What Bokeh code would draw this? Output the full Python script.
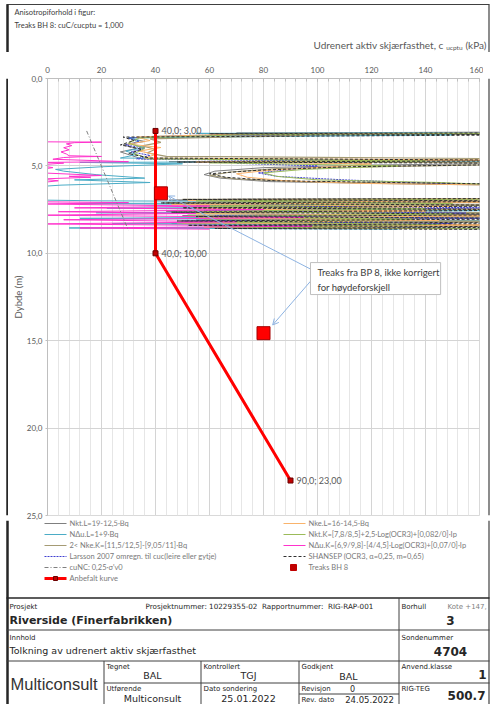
from bokeh.plotting import figure
from bokeh.layouts import column, row
from bokeh.models import Range1d, FixedTicker, Label, Arrow, OpenHead, BoxAnnotation
from bokeh.core.properties import value
from bokeh.embed import file_html
from bokeh.resources import INLINE

# ---------------------------------------------------------------- data
x_ticks = [0, 20, 40, 60, 80, 100, 120, 140, 160]
y_ticks = [0, 5, 10, 15, 20, 25]
y_tick_labels = ["0,0", "5,0", "10,0", "15,0", "20,0", "25,0"]

# cu profiles from CPTU interpretation (depth in m, cu in kPa)
nkt_l_depth = [3.05, 3.12, 3.18, 3.30, 3.42, 3.60, 3.80, 4.00, 4.20, 4.40,
               4.60, 4.70, 4.76, 4.82, 4.95, 5.10, 5.30, 5.50, 5.70, 5.90,
               6.05, 6.15, 6.85, 6.90, 6.96, 7.05, 7.15, 7.25, 7.40, 7.50,
               7.60, 7.75, 7.85, 7.95, 8.10, 8.20, 8.30, 8.45, 8.55, 8.62]
nkt_l_cu = [200, 70, 190, 40, 30, 36, 28, 33, 27, 31,
            35, 190, 45, 195, 120, 80, 62, 58, 64, 82,
            140, 200, 200, 70, 45, 195, 48, 190, 52, 185,
            44, 200, 50, 190, 55, 185, 46, 195, 60, 200]

ndu_l_depth = [3.08, 3.14, 3.22, 3.40, 3.55, 3.75, 3.95, 4.15, 4.35, 4.55,
               4.72, 4.80, 4.88, 5.05, 5.20, 5.30, 5.50, 5.70, 5.80, 5.95,
               6.10, 6.20, 6.95, 7.00, 7.08, 7.15, 7.30, 7.42, 7.55, 7.68,
               7.85, 8.00, 8.15, 8.30, 8.45, 8.55, 8.62]
ndu_l_cu = [200, 55, 150, 30, 34, 31, 36, 29, 33, 27,
            190, 12, 50, 20, 3, 6, 18, 36, 10, 38,
            5, -5, -5, 20, 170, 10, 150, 22, 175, 18,
            160, 12, 180, 24, 140, 8, 130]

nke_k_depth = [3.10, 3.18, 3.26, 3.45, 3.65, 3.85, 4.05, 4.25, 4.45, 4.62,
               4.74, 4.84, 5.00, 5.15, 5.35, 5.55, 5.75, 5.90, 6.05, 6.12,
               6.86, 6.92, 7.00, 7.12, 7.22, 7.35, 7.48, 7.58, 7.70, 7.82,
               7.92, 8.05, 8.18, 8.28, 8.40, 8.52, 8.60]
nke_k_cu = [200, 80, 95, 38, 42, 35, 40, 37, 44, 200,
            60, 195, 140, 85, 68, 60, 70, 95, 160, 200,
            200, 50, 190, 44, 200, 55, 180, 48, 195, 52,
            200, 58, 185, 50, 195, 62, 200]

larsson_depth = [3.12, 3.25, 3.40, 3.60, 3.80, 4.00, 4.20, 4.40, 4.60, 4.75,
                 4.85, 5.00, 5.20, 5.40, 5.60, 5.80, 5.95, 6.10, 6.90, 7.00,
                 7.10, 7.25, 7.40, 7.55, 7.70, 7.85, 8.00, 8.15, 8.30, 8.45,
                 8.60]
larsson_cu = [170, 55, 30, 34, 29, 36, 31, 38, 33, 120,
              70, 100, 90, 78, 85, 110, 135, 170, 170, 60,
              150, 55, 165, 58, 155, 62, 170, 50, 150, 60,
              170]

nke_l_depth = [3.12, 3.20, 3.35, 3.55, 3.75, 3.95, 4.15, 4.35, 4.55, 4.68,
               4.78, 4.88, 5.05, 5.25, 5.45, 5.65, 5.85, 6.00, 6.12, 6.88,
               6.98, 7.08, 7.20, 7.32, 7.45, 7.58, 7.72, 7.85, 7.98, 8.12,
               8.25, 8.38, 8.50, 8.60]
nke_l_cu = [180, 65, 33, 38, 30, 42, 34, 40, 36, 180,
            55, 120, 105, 82, 70, 74, 88, 115, 180, 180,
            52, 170, 46, 150, 54, 140, 50, 175, 56, 145,
            48, 170, 58, 150]

nkt_k_depth = [3.14, 3.22, 3.40, 3.70, 4.00, 4.30, 4.60, 4.72, 4.82, 5.00,
               5.20, 5.40, 5.60, 5.80, 5.95, 6.10, 6.90, 7.00, 7.15, 7.30,
               7.45, 7.60, 7.75, 7.90, 8.05, 8.20, 8.35, 8.50, 8.60]
nkt_k_cu = [170, 72, 34, 30, 36, 32, 38, 140, 60, 130,
            95, 80, 85, 100, 145, 170, 170, 55, 150, 50,
            140, 58, 150, 52, 135, 56, 145, 60, 170]

ndu_k_depth = [3.62, 3.64, 3.67, 3.74, 3.84, 3.96, 4.08, 4.20, 4.32, 4.42,
               4.46, 4.48, 4.52, 4.62, 4.76, 4.80, 4.84, 4.95, 5.10, 5.25,
               5.40, 5.55, 5.60, 5.65, 5.75, 5.85, 6.00, 7.05, 7.10, 7.18,
               7.30, 7.40, 7.50, 7.62, 7.72, 7.82, 7.95, 8.08, 8.20, 8.32,
               8.45, 8.55, 8.62]
ndu_k_cu = [-5, 20, 10, 7, 9, 6, 8, 5, 7, 8,
            20, 12, 6, 2, 30, -2, 6, -4, 2, -5,
            -2, 20, 8, 16, -3, 4, -5, -5, 30, -2,
            60, 10, 80, 4, 55, -3, 95, 6, 70, -2,
            98, 12, 60]

shansep_depth = [3.10, 3.16, 3.22, 3.35, 3.55, 3.80, 4.05, 4.30, 4.55, 4.70,
                 4.78, 4.86, 5.05, 5.25, 5.45, 5.65, 5.85, 6.00, 6.10, 6.85,
                 6.92, 7.02, 7.12, 7.28, 7.40, 7.52, 7.65, 7.78, 7.90, 8.02,
                 8.15, 8.28, 8.40, 8.50, 8.58, 8.65]
shansep_cu = [200, 60, 190, 28, 32, 27, 35, 30, 38, 200,
              48, 200, 110, 78, 60, 66, 84, 150, 200, 200,
              50, 200, 42, 195, 50, 200, 46, 195, 55, 200,
              48, 190, 52, 200, 62, 200]

cunc_depth = [3.0, 8.7]
cunc_cu = [14.5, 30.0]

anbefalt_depth = [3.0, 10.0, 23.0]
anbefalt_cu = [40.0, 40.0, 90.0]

treaks_depth = [6.57, 14.57]
treaks_cu = [42.0, 80.0]

# ---------------------------------------------------------------- styles
GREY_TXT = "#595959"
DARK = "#262626"
CHART_FONT = "Lato"
BLOCK_FONT = "DejaVu Sans"
NB = "\u00a0"

series = [
    ("Nkt.L=19-12,5·Bq", nkt_l_cu, nkt_l_depth, "#7f7f7f", "solid", 1.0),
    ("NΔu.L=1+9·Bq", ndu_l_cu, ndu_l_depth, "#4bacc6", "solid", 1.0),
    ("2< Nke.K=[11,5/12,5]-[9,05/11]·Bq", nke_k_cu, nke_k_depth, "#a59b74", "solid", 1.2),
    ("Larsson 2007 omregn. til cuc(leire eller gytje)", larsson_cu, larsson_depth, "#3f3fd0", "2 1", 1.0),
    ("Nke.L=16-14,5·Bq", nke_l_cu, nke_l_depth, "#f9b36b", "solid", 1.0),
    ("Nkt.K=[7,8/8,5]+2,5·Log(OCR3)+[0,082/0]·Ip", nkt_k_cu, nkt_k_depth, "#9bbb59", "solid", 1.0),
    ("NΔu.K=[6,9/9,8]-[4/4,5]·Log(OCR3)+[0,07/0]·Ip", ndu_k_cu, ndu_k_depth, "#ff33cc", "solid", 1.0),
    ("SHANSEP (OCR3, α=0,25, m=0,65)", shansep_cu, shansep_depth, "#303030", "3 2", 1.0),
]


def put(fig, x, y, s, size, color=DARK, align="left", bold=False, font=BLOCK_FONT):
    fig.text(x=[x], y=[y], text=[s], text_font=value(font),
             text_font_size=f"{size}px", text_color=color, text_align=align,
             text_baseline="middle", text_font_style="bold" if bold else "normal")


def bare(width, height, x0, x1, y_top, y_bottom):
    f = figure(width=width, height=height, x_range=Range1d(x0, x1),
               y_range=Range1d(y_bottom, y_top), x_axis_location=None,
               y_axis_location=None, toolbar_location=None, output_backend="svg",
               min_border=0, outline_line_color=None)
    f.grid.visible = False
    return f


# ---------------------------------------------------------------- header strip
head = bare(491, 52, 0, 491, 0, 52)
head.segment(x0=[6], y0=[4], x1=[489], y1=[4], line_color="#404040", line_width=1.2)
head.segment(x0=[7], y0=[4], x1=[7], y1=[52], line_color=DARK, line_width=2.5)
head.segment(x0=[488.5], y0=[4], x1=[488.5], y1=[52], line_color="#404040", line_width=1.2)
put(head, 14, 12, "Anisotropiforhold i figur:", 7.5, "#404040", font=CHART_FONT)
put(head, 14, 25, "Treaks BH 8: cuC/cucptu = 1,000", 7.5, "#404040", font=CHART_FONT)
put(head, 443, 44, "Udrenert aktiv skjærfasthet, c", 10, GREY_TXT, "right", font=CHART_FONT)
put(head, 462, 47, "ucptu", 6.5, GREY_TXT, "right", font=CHART_FONT)
put(head, 486, 44, "(kPa)", 10, GREY_TXT, "right", font=CHART_FONT)

# ---------------------------------------------------------------- chart
p = figure(width=475, height=468, x_range=Range1d(0, 160), y_range=Range1d(25, 0),
           x_axis_location="above", toolbar_location=None, output_backend="svg",
           min_border_left=39, min_border_right=4, min_border_top=26,
           min_border_bottom=5, outline_line_color="#d9d9d9")

p.xaxis.ticker = FixedTicker(ticks=x_ticks, minor_ticks=list(range(0, 161, 4)))
p.yaxis.ticker = FixedTicker(ticks=y_ticks, minor_ticks=[])
p.yaxis.major_label_overrides = {t: s for t, s in zip(y_ticks, y_tick_labels)}
p.yaxis.axis_label = "Dybde (m)"

for ax in (p.xaxis[0], p.yaxis[0]):
    ax.axis_line_color = "#bfbfbf"
    ax.major_tick_line_color = "#bfbfbf"
    ax.minor_tick_line_color = "#bfbfbf"
    ax.major_label_text_color = GREY_TXT
    ax.major_label_text_font = CHART_FONT
    ax.major_label_text_font_size = "8px"
    ax.axis_label_text_color = GREY_TXT
    ax.axis_label_text_font = CHART_FONT
    ax.axis_label_text_font_size = "9.5px"
    ax.axis_label_text_font_style = "normal"

p.xaxis.major_tick_in = 3
p.xaxis.major_tick_out = 0
p.xaxis.minor_tick_in = 3
p.xaxis.minor_tick_out = 0
p.xaxis.major_label_standoff = 6
p.yaxis.major_tick_in = 0
p.yaxis.major_tick_out = 2
p.yaxis.minor_tick_in = 0
p.yaxis.minor_tick_out = 0
p.yaxis.major_label_standoff = 3
p.yaxis.axis_label_standoff = 0

p.xgrid.grid_line_color = "#d4d4d4"
p.xgrid.minor_grid_line_color = "#e6e6e6"
p.ygrid.grid_line_color = "#d4d4d4"

for name, cu, depth, color, dash, lw in series:
    p.line(x=cu, y=depth, line_color=color, line_dash=dash, line_width=lw)

p.line(x=cunc_cu, y=cunc_depth, line_color="#7f7f7f", line_dash="4 2 1 2", line_width=1)

# recommended design curve
p.line(x=anbefalt_cu, y=anbefalt_depth, line_color="#ff0000", line_width=3)
p.scatter(x=anbefalt_cu, y=anbefalt_depth, marker="square", size=5,
          fill_color="#c00000", line_color="#6b0000")
anbefalt_labels = [f"{c:.1f}; {d:.2f}".replace(".", ",")
                   for c, d in zip(anbefalt_cu, anbefalt_depth)]
p.text(x=anbefalt_cu, y=anbefalt_depth, text=anbefalt_labels, x_offset=6,
       text_baseline="middle", text_font=value(CHART_FONT), text_font_size="9px",
       text_color=GREY_TXT)

# triaxial tests
p.scatter(x=treaks_cu, y=treaks_depth, marker="square", size=13,
          fill_color="#ff0000", line_color="#a50000", line_width=1)

# callout
arrow_color = "#8db3e2"
p.add_layout(Arrow(end=OpenHead(size=6, line_color=arrow_color, line_width=1),
                   x_start=97.4, y_start=10.9, x_end=44.8, y_end=6.72,
                   line_color=arrow_color, line_width=1))
p.add_layout(Arrow(end=OpenHead(size=6, line_color=arrow_color, line_width=1),
                   x_start=97.4, y_start=11.6, x_end=83.4, y_end=14.1,
                   line_color=arrow_color, line_width=1))
p.add_layout(BoxAnnotation(left=97.4, right=145.6, top=10.53, bottom=12.36,
                           fill_color="white", fill_alpha=1.0,
                           line_color="#bfbfbf", line_width=1, line_alpha=1.0))
for yy, s in [(11.1, "Treaks fra BP 8, ikke korrigert"), (11.95, "for høydeforskjell")]:
    p.add_layout(Label(x=100.0, y=yy, text=s, text_font=CHART_FONT,
                       text_font_size="9.5px", text_color="#404040",
                       text_baseline="middle"))

# side strips carrying the page frame
left_strip = bare(8, 468, 0, 8, 0, 468)
left_strip.segment(x0=[7], y0=[0], x1=[7], y1=[468], line_color=DARK, line_width=2.5)
right_strip = bare(8, 468, 0, 8, 0, 468)
right_strip.segment(x0=[5.5], y0=[0], x1=[5.5], y1=[468], line_color="#404040", line_width=1.2)

# ---------------------------------------------------------------- legend + title block
foot = bare(491, 184, 0, 491, 520, 704)
foot.segment(x0=[7], y0=[520], x1=[7], y1=[704], line_color=DARK, line_width=2.5)
foot.segment(x0=[488.5], y0=[520], x1=[488.5], y1=[704], line_color="#404040", line_width=1.2)

LEG = "#7a7a7a"
left_rows = [523, 534, 545, 556, 567, 578]
right_rows = [523, 534, 545, 556, 567]
left_items = [series[0], series[1], series[2], series[3]]
right_items = [series[4], series[5], series[6], series[7]]
for (name, _, _, color, dash, lw), yy in zip(left_items, left_rows):
    foot.segment(x0=[44], y0=[yy], x1=[66], y1=[yy], line_color=color, line_dash=dash, line_width=lw)
    put(foot, 69, yy, name, 7.5, LEG, font=CHART_FONT)
foot.segment(x0=[44], y0=[left_rows[4]], x1=[66], y1=[left_rows[4]], line_color="#7f7f7f",
             line_dash="4 2 1 2", line_width=1)
put(foot, 69, left_rows[4], "cuNC: 0,25·σ'v0", 7.5, LEG, font=CHART_FONT)
foot.segment(x0=[44], y0=[left_rows[5]], x1=[66], y1=[left_rows[5]], line_color="#ff0000", line_width=3)
foot.scatter(x=[55], y=[left_rows[5]], marker="square", size=4, fill_color="#c00000", line_color="#6b0000")
put(foot, 69, left_rows[5], "Anbefalt kurve", 7.5, LEG, font=CHART_FONT)
for (name, _, _, color, dash, lw), yy in zip(right_items, right_rows):
    foot.segment(x0=[283], y0=[yy], x1=[305], y1=[yy], line_color=color, line_dash=dash, line_width=lw)
    put(foot, 308, yy, name, 7.5, LEG, font=CHART_FONT)
foot.scatter(x=[293], y=[right_rows[4]], marker="square", size=6, fill_color="#c00000", line_color="#c00000")
put(foot, 308, right_rows[4], "Treaks BH 8", 7.5, LEG, font=CHART_FONT)

# title block grid
rule = dict(line_color="#404040", line_width=1)
foot.segment(x0=[6], y0=[597.5], x1=[489], y1=[597.5], line_color="#262626", line_width=1.5)
foot.segment(x0=[398.5], y0=[597.5], x1=[398.5], y1=[704], **rule)
foot.segment(x0=[6], y0=[629.5], x1=[489], y1=[629.5], **rule)
foot.segment(x0=[6], y0=[660.5], x1=[489], y1=[660.5], **rule)
foot.segment(x0=[103.5], y0=[660.5], x1=[103.5], y1=[704], **rule)
foot.segment(x0=[200.5], y0=[660.5], x1=[200.5], y1=[704], **rule)
foot.segment(x0=[298.5], y0=[660.5], x1=[298.5], y1=[704], **rule)
foot.segment(x0=[103.5], y0=[682.5], x1=[489], y1=[682.5], **rule)
foot.segment(x0=[298.5], y0=[693.5], x1=[398.5], y1=[693.5], **rule)

put(foot, 9, 606, "Prosjekt", 7)
put(foot, 145, 606, f"Prosjektnummer:{NB}10229355-02{NB}{NB}Rapportnummer:{NB}{NB}RIG-RAP-001", 7.2)
put(foot, 9, 620, "Riverside (Finerfabrikken)", 11, bold=True)
put(foot, 401, 606, "Borhull", 7)
put(foot, 447, 606, "Kote +147,", 7, "#7f7f7f")
put(foot, 450, 620, "3", 12, align="center", bold=True)
put(foot, 9, 637, "Innhold", 7)
put(foot, 9, 650, "Tolkning av udrenert aktiv skjærfasthet", 9.5)
put(foot, 401, 637, "Sondenummer", 7)
put(foot, 450, 651, "4704", 12, align="center", bold=True)
put(foot, 10, 683, "Multiconsult", 16.5, "#333333", font="Liberation Sans")
put(foot, 106, 666, "Tegnet", 7)
put(foot, 152, 675, "BAL", 9.5, align="center")
put(foot, 106, 688, "Utførende", 7)
put(foot, 152, 698, "Multiconsult", 9.5, align="center")
put(foot, 203, 666, "Kontrollert", 7)
put(foot, 248, 675, "TGJ", 9.5, align="center")
put(foot, 203, 688, "Dato sondering", 7)
put(foot, 248, 698, "25.01.2022", 9.5, align="center")
put(foot, 301, 666, "Godkjent", 7)
put(foot, 348, 676, "BAL", 9.5, align="center")
put(foot, 301, 688, "Revisjon", 7)
put(foot, 352, 688, "0", 8, align="center")
put(foot, 301, 699, "Rev. dato", 7)
put(foot, 369, 699, "24.05.2022", 8.5, align="center")
put(foot, 401, 666, "Anvend.klasse", 7)
put(foot, 482, 674, "1", 12, align="center", bold=True)
put(foot, 401, 688, "RIG-TEG", 7)
put(foot, 485, 695, "500.7", 12, align="right", bold=True)

page = column(head, row(left_strip, p, right_strip), foot)

open("out.html", "w").write(file_html(page, INLINE))
